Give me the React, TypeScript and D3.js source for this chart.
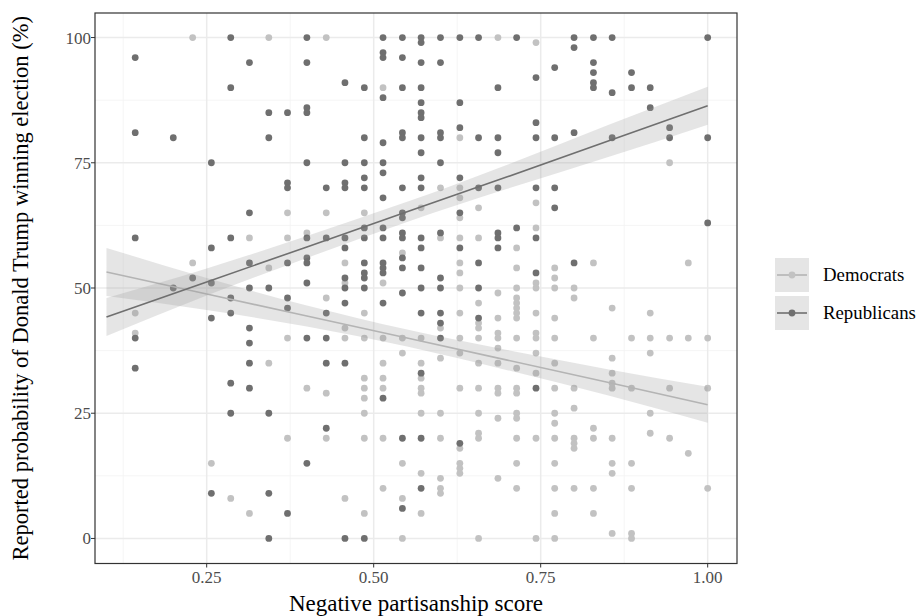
import { useEffect, useRef } from "react";
import { select, scaleLinear, line, area, curveNatural } from "d3";

// reported probability of a Trump win, grouped by negative partisanship score
const democrats: [number, number[]][] = [
    [0.143, [45, 41]],
    [0.229, [100, 55]],
    [0.257, [15]],
    [0.286, [8]],
    [0.314, [60, 5]],
    [0.343, [100, 54, 35]],
    [0.371, [65, 60, 40, 20]],
    [0.4, [61, 30]],
    [0.429, [100, 65, 48, 29, 20]],
    [0.457, [55, 51, 42, 40, 8]],
    [0.486, [65, 45, 40, 32, 30, 28, 25, 20, 5]],
    [0.514, [90, 51, 40, 35, 32, 30, 20, 10]],
    [0.543, [57, 40, 37, 15, 8, 0]],
    [0.571, [66, 40, 35, 32, 30, 29, 25, 13, 5]],
    [0.6, [70, 60, 42, 36, 25, 20, 12, 10, 9]],
    [0.629, [80, 70, 68, 64, 60, 55, 53, 50, 45, 40, 37, 30, 18, 15, 14, 13]],
    [0.657, [66, 60, 47, 43, 42, 40, 35, 30, 25, 21, 20, 0]],
    [0.686, [100, 49, 44, 41, 40, 38, 35, 30, 29, 24, 12]],
    [0.714, [58, 54, 50, 48, 47, 46, 45, 44, 40, 34, 30, 29, 25, 24, 20, 15, 10]],
    [0.743, [99, 67, 62, 51, 50, 45, 41, 40, 37, 33, 20, 0]],
    [0.771, [54, 52, 50, 44, 40, 35, 30, 25, 23, 20, 15, 10, 5, 0]],
    [0.8, [50, 48, 30, 26, 20, 19, 18, 10]],
    [0.829, [55, 40, 22, 20, 10, 5]],
    [0.857, [46, 36, 33, 31, 30, 20, 15, 13, 1]],
    [0.886, [40, 30, 15, 10, 1, 0]],
    [0.914, [45, 40, 37, 25, 21]],
    [0.943, [75, 40, 30, 20]],
    [0.971, [55, 40, 17]],
    [1.0, [40, 30, 10]],
];

const republicans: [number, number[]][] = [
    [0.143, [96, 81, 60, 40, 34]],
    [0.2, [80, 50]],
    [0.229, [52]],
    [0.257, [75, 58, 51, 44, 9]],
    [0.286, [100, 90, 60, 48, 45, 31, 25]],
    [0.314, [95, 65, 55, 50, 42, 39, 35, 30]],
    [0.343, [85, 80, 50, 25, 9, 0]],
    [0.371, [85, 71, 70, 55, 48, 46, 5]],
    [0.4, [100, 95, 86, 85, 75, 60, 56, 55, 51, 40, 15]],
    [0.429, [70, 60, 45, 40, 35, 22]],
    [0.457, [91, 75, 71, 70, 60, 58, 52, 50, 47, 35, 0]],
    [0.486, [90, 80, 75, 72, 70, 62, 60, 55, 53, 52, 50, 0]],
    [0.514, [100, 97, 96, 88, 79, 75, 73, 68, 62, 60, 55, 54, 53, 47, 28]],
    [0.543, [100, 96, 90, 81, 80, 70, 65, 64, 61, 60, 56, 54, 49, 20, 6]],
    [0.571, [100, 99, 95, 90, 87, 85, 84, 80, 77, 72, 70, 60, 58, 54, 50, 45, 33, 20, 10]],
    [0.6, [100, 95, 81, 80, 75, 61, 52, 50, 45, 43, 40]],
    [0.629, [100, 87, 82, 72, 65, 58, 19]],
    [0.657, [100, 80, 70, 55, 50, 44]],
    [0.686, [90, 80, 77, 70, 61, 60, 58]],
    [0.714, [100, 62]],
    [0.743, [92, 83, 80, 70, 60, 53, 30]],
    [0.771, [94, 80, 70, 66]],
    [0.8, [100, 98, 81, 55]],
    [0.829, [100, 95, 93, 91, 90]],
    [0.857, [100, 89, 80]],
    [0.886, [93, 90]],
    [0.914, [90, 86]],
    [0.943, [82, 80]],
    [1.0, [100, 80, 63]],
];

// linear smoother (fit and 95% band)
const smoothX = [0.1, 0.25, 0.4, 0.55, 0.7, 0.85, 1.0];
const demFit = [53.2, 48.8, 44.4, 40.0, 35.6, 31.2, 26.7];
const demLo = [48.4, 45.6, 42.3, 38.3, 33.6, 28.6, 23.1];
const demHi = [58.0, 52.0, 46.5, 41.7, 37.6, 33.8, 30.3];
const repFit = [44.2, 51.2, 58.2, 65.2, 72.2, 79.3, 86.4];
const repLo = [40.4, 48.5, 56.0, 63.2, 69.8, 76.1, 82.6];
const repHi = [48.0, 53.9, 60.4, 67.2, 74.6, 82.5, 90.2];

const xTicks = [0.25, 0.5, 0.75, 1.0];
const xMinor = [0.125, 0.375, 0.625, 0.875];
const yTicks = [0, 25, 50, 75, 100];
const yMinor = [12.5, 37.5, 62.5, 87.5];

const groups = [
    { name: "Democrats", rows: democrats, fit: demFit, lo: demLo, hi: demHi, point: "#c2c2c2", stroke: "#b4b4b4" },
    { name: "Republicans", rows: republicans, fit: repFit, lo: repLo, hi: repHi, point: "#6f6f6f", stroke: "#6f6f6f" },
];

export default function App() {
    const svgRef = useRef<SVGSVGElement>(null);

    useEffect(() => {
        document.body.style.margin = "0";
        const Width = 917;
        const Height = 616;
        const panel = { left: 95, top: 13, right: 737, bottom: 563.5 };

        const svg = select(svgRef.current).attr("width", Width).attr("height", Height);
        svg.selectAll("*").remove();

        const xScale = scaleLinear().domain([0.0828, 1.0439]).range([panel.left, panel.right]);
        const yScale = scaleLinear().domain([-5, 105]).range([panel.bottom, 12.5]);

        svg.append("rect")
            .attr("width", Width)
            .attr("height", Height)
            .attr("fill", "white");

        // grid
        const grid = svg.append("g");
        grid.selectAll(".vMinor")
            .data(xMinor)
            .join("line")
            .attr("x1", (d) => xScale(d))
            .attr("x2", (d) => xScale(d))
            .attr("y1", panel.top)
            .attr("y2", panel.bottom)
            .attr("stroke", "#f3f3f3")
            .attr("stroke-width", 0.8);
        grid.selectAll(".hMinor")
            .data(yMinor)
            .join("line")
            .attr("x1", panel.left)
            .attr("x2", panel.right)
            .attr("y1", (d) => yScale(d))
            .attr("y2", (d) => yScale(d))
            .attr("stroke", "#f3f3f3")
            .attr("stroke-width", 0.8);
        grid.selectAll(".vMajor")
            .data(xTicks)
            .join("line")
            .attr("class", "vMajor")
            .attr("x1", (d) => xScale(d))
            .attr("x2", (d) => xScale(d))
            .attr("y1", panel.top)
            .attr("y2", panel.bottom)
            .attr("stroke", "#ebebeb")
            .attr("stroke-width", 1.5);
        grid.selectAll(".hMajor")
            .data(yTicks)
            .join("line")
            .attr("class", "hMajor")
            .attr("x1", panel.left)
            .attr("x2", panel.right)
            .attr("y1", (d) => yScale(d))
            .attr("y2", (d) => yScale(d))
            .attr("stroke", "#ebebeb")
            .attr("stroke-width", 1.5);

        // points
        groups.forEach((g) => {
            const pts = g.rows.flatMap(([x, ys]) => ys.map((y) => ({ x, y })));
            svg.append("g")
                .selectAll("circle")
                .data(pts)
                .join("circle")
                .attr("cx", (d) => xScale(d.x))
                .attr("cy", (d) => yScale(d.y))
                .attr("r", 3.4)
                .attr("fill", g.point);
        });

        // smoothers
        groups.forEach((g) => {
            const band = smoothX.map((x, i) => ({ x, fit: g.fit[i], lo: g.lo[i], hi: g.hi[i] }));
            svg.append("path")
                .datum(band)
                .attr(
                    "d",
                    area<any>()
                        .curve(curveNatural)
                        .x((d) => xScale(d.x))
                        .y0((d) => yScale(d.lo))
                        .y1((d) => yScale(d.hi))
                )
                .attr("fill", "#999999")
                .attr("fill-opacity", 0.25);
            svg.append("path")
                .datum(band)
                .attr(
                    "d",
                    line<any>()
                        .x((d) => xScale(d.x))
                        .y((d) => yScale(d.fit))
                )
                .attr("fill", "none")
                .attr("stroke", g.stroke)
                .attr("stroke-width", 1.6);
        });

        // panel border
        svg.append("rect")
            .attr("x", panel.left)
            .attr("y", panel.top)
            .attr("width", panel.right - panel.left)
            .attr("height", panel.bottom - panel.top)
            .attr("fill", "none")
            .attr("stroke", "#333333")
            .attr("stroke-width", 1.2);

        // ticks + labels
        const font = "'Liberation Serif', 'Times New Roman', serif";
        svg.append("g")
            .selectAll("line")
            .data(xTicks)
            .join("line")
            .attr("x1", (d) => xScale(d))
            .attr("x2", (d) => xScale(d))
            .attr("y1", panel.bottom)
            .attr("y2", panel.bottom + 4)
            .attr("stroke", "#333333");
        svg.append("g")
            .selectAll("text")
            .data(xTicks)
            .join("text")
            .attr("x", (d) => xScale(d))
            .attr("y", panel.bottom + 19)
            .attr("text-anchor", "middle")
            .attr("fill", "#4d4d4d")
            .attr("font-size", 17)
            .text((d) => d.toFixed(2));
        svg.append("g")
            .selectAll("line")
            .data(yTicks)
            .join("line")
            .attr("x1", panel.left - 4)
            .attr("x2", panel.left)
            .attr("y1", (d) => yScale(d))
            .attr("y2", (d) => yScale(d))
            .attr("stroke", "#333333");
        svg.append("g")
            .selectAll("text")
            .data(yTicks)
            .join("text")
            .attr("x", panel.left - 4)
            .attr("y", (d) => yScale(d) + 6)
            .attr("text-anchor", "end")
            .attr("fill", "#4d4d4d")
            .attr("font-size", 17)
            .text((d) => d);

        // axis titles
        svg.append("text")
            .attr("x", (panel.left + panel.right) / 2)
            .attr("y", 611)
            .attr("text-anchor", "middle")
            .attr("font-size", 23)
            .attr("fill", "black")
            .text("Negative partisanship score");
        svg.append("text")
            .attr("transform", `translate(28, ${(panel.top + panel.bottom) / 2}) rotate(-90)`)
            .attr("text-anchor", "middle")
            .attr("font-size", 22.5)
            .attr("fill", "black")
            .text("Reported probability of Donald Trump winning election (%)");

        // legend
        const legend = svg.append("g").attr("transform", "translate(775, 258)");
        const keys = legend
            .selectAll("g")
            .data(groups)
            .join("g")
            .attr("transform", (_, i) => `translate(0, ${i * 38})`);
        keys.append("rect")
            .attr("width", 34)
            .attr("height", 34)
            .attr("fill", "#999999")
            .attr("fill-opacity", 0.25);
        keys.append("line")
            .attr("x1", 2)
            .attr("x2", 32)
            .attr("y1", 17)
            .attr("y2", 17)
            .attr("stroke", (d) => d.stroke)
            .attr("stroke-width", 1.6);
        keys.append("circle")
            .attr("cx", 17)
            .attr("cy", 17)
            .attr("r", 3.4)
            .attr("fill", (d) => d.point);
        keys.append("text")
            .attr("x", 48)
            .attr("y", 23)
            .attr("font-size", 18.8)
            .attr("fill", "black")
            .text((d) => d.name);

        svg.selectAll("text").style("font-family", font);
    }, []);

    return <svg ref={svgRef} style={{ display: "block" }}></svg>;
}
